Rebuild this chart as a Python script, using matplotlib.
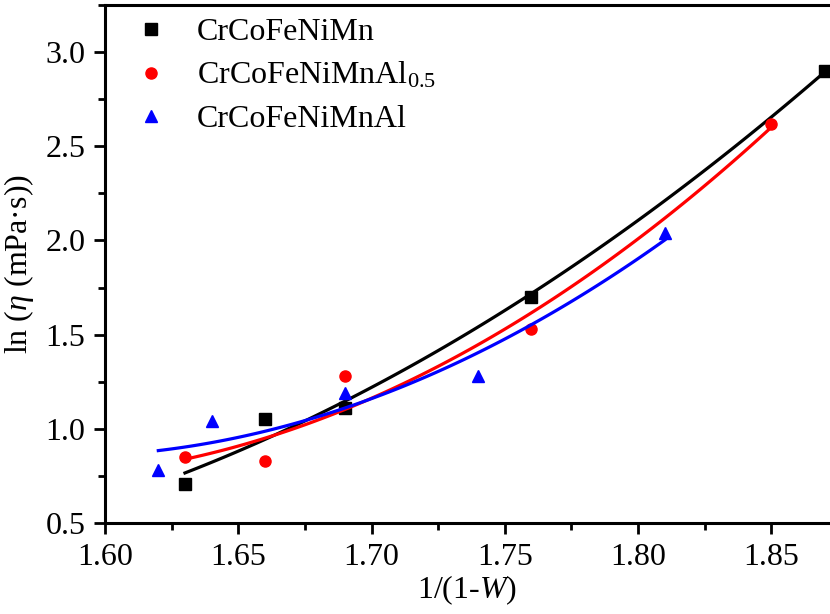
import numpy as np
import matplotlib
matplotlib.use('Agg')
import matplotlib.pyplot as plt
from matplotlib.ticker import MultipleLocator

plt.rcParams['font.family'] = ['Liberation Serif', 'DejaVu Serif']
plt.rcParams['mathtext.fontset'] = 'custom'
plt.rcParams['mathtext.rm'] = 'Liberation Serif'
plt.rcParams['mathtext.it'] = 'Liberation Serif:italic'

# data
labels = ['CrCoFeNiMn', 'CrCoFeNiMnAl$_{0.5}$', 'CrCoFeNiMnAl']
colors = ['black', 'red', 'blue']
markers = ['s', 'o', '^']

x_mn = [1.63, 1.66, 1.69, 1.76, 1.87]
y_mn = [0.71, 1.05, 1.11, 1.70, 2.90]
x_al05 = [1.63, 1.66, 1.69, 1.76, 1.85]
y_al05 = [0.85, 0.83, 1.28, 1.53, 2.62]
x_al = [1.62, 1.64, 1.69, 1.74, 1.81]
y_al = [0.78, 1.04, 1.19, 1.28, 2.04]

series = [(x_mn, y_mn), (x_al05, y_al05), (x_al, y_al)]

fig = plt.figure(figsize=(8.3, 6.14), dpi=100)
ax = fig.add_axes([0.1265, 0.148, 0.8735, 0.844])

for (xs, ys), lab, c, m in zip(series, labels, colors, markers):
    ax.plot(xs, ys, linestyle='none', marker=m, color=c, markersize=8, label=lab)
    # quadratic fit curve over the data range
    p = np.polyfit(xs, ys, 2)
    xx = np.linspace(min(xs), max(xs), 100)
    ax.plot(xx, np.polyval(p, xx), color=c, linewidth=2.3)

ax.set_xlim(1.60, 1.872)
ax.set_ylim(0.5, 3.25)
ax.xaxis.set_major_locator(MultipleLocator(0.05))
ax.xaxis.set_minor_locator(MultipleLocator(0.025))
ax.yaxis.set_major_locator(MultipleLocator(0.5))
ax.yaxis.set_minor_locator(MultipleLocator(0.25))
ax.xaxis.set_major_formatter(matplotlib.ticker.FormatStrFormatter('%.2f'))
ax.yaxis.set_major_formatter(matplotlib.ticker.FormatStrFormatter('%.1f'))

for s in ['left', 'bottom', 'top']:
    ax.spines[s].set_linewidth(2.2)
ax.spines['right'].set_visible(False)
ax.tick_params(which='major', direction='out', length=8, width=2, labelsize=23, pad=6)
ax.tick_params(which='minor', direction='out', length=5, width=2)

ax.set_xlabel('1/(1-$\\it{W}$)', fontsize=23, labelpad=1)
ax.set_ylabel('ln ($\\it{\\eta}$ (mPa·s))', fontsize=23, labelpad=7)

ax.legend(loc='upper left', frameon=False, fontsize=23, handlelength=0.95,
          handletextpad=0.95, borderaxespad=0.0, labelspacing=0.42,
          bbox_to_anchor=(0.025, 1.0))

fig.savefig('out.png', dpi=100)
